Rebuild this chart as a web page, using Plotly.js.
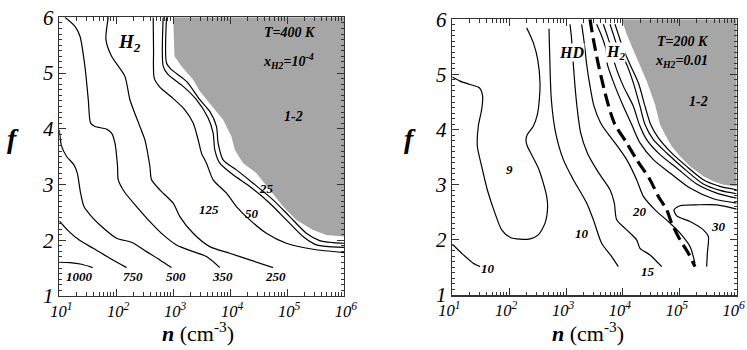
<!DOCTYPE html>
<html>
<head>
<meta charset="utf-8">
<script src="https://cdn.plot.ly/plotly-3.0.1.min.js"></script>
<style>
body { margin: 0; background: #fff; }
#plot { width: 747px; height: 350px; }
#plot text { font-family: "Liberation Serif", "Times New Roman", serif !important; }
</style>
</head>
<body>
<div id="plot"></div>
<script>
// contour lines: log10(n) and f
// left panel, T=400 K, xH2=1e-4
var l1000_n = [1.000, 1.187, 1.392, 1.585];
var l1000_f = [1.605, 1.599, 1.569, 1.509];
var l750_n = [1.000, 1.158, 1.363, 1.596, 1.889, 2.181];
var l750_f = [2.347, 2.168, 1.994, 1.856, 1.677, 1.509];
var l500_n = [1.000, 1.041, 1.129, 1.257, 1.316, 1.374, 1.433, 1.567, 1.713, 2.006, 2.269, 2.532, 2.766, 2.971];
var l500_f = [3.982, 3.683, 3.503, 3.353, 3.204, 2.844, 2.605, 2.425, 2.275, 2.036, 1.964, 1.796, 1.647, 1.509];
var l350_n = [1.099, 1.275, 1.363, 1.450, 1.509, 1.550, 1.626, 1.830, 1.918, 1.977, 2.023, 2.035, 2.152, 2.357, 2.591, 2.825, 3.058, 3.351, 3.585, 3.819];
var l350_f = [6.0, 5.838, 5.659, 5.120, 4.521, 4.102, 4.042, 3.994, 3.922, 3.743, 3.323, 3.084, 2.856, 2.605, 2.335, 2.096, 1.916, 1.796, 1.707, 1.509];
var l250_n = [1.860, 1.819, 1.918, 2.152, 2.240, 2.415, 2.503, 2.591, 2.620, 2.766, 3.000, 3.117, 3.351, 3.643, 3.994, 4.345, 4.754];
var l250_f = [6.0, 5.599, 5.299, 4.940, 4.521, 4.042, 3.802, 3.323, 3.084, 2.904, 2.665, 2.425, 2.126, 1.886, 1.766, 1.647, 1.509];
var l125_n = [2.649, 2.655, 2.667, 2.766, 2.971, 3.205, 3.351, 3.439, 3.497, 3.585, 3.702, 3.936, 4.111, 4.345, 4.637, 4.988, 5.456, 6.0];
var l125_f = [6.0, 5.419, 4.910, 4.749, 4.569, 4.341, 4.102, 3.802, 3.563, 3.383, 3.084, 2.844, 2.605, 2.365, 2.126, 1.946, 1.838, 1.778];
var l50_n = [2.825, 2.825, 2.912, 3.175, 3.409, 3.614, 3.702, 3.731, 3.819, 4.053, 4.345, 4.696, 4.988, 5.281, 5.515, 5.807, 6.0];
var l50_f = [6.0, 5.120, 4.970, 4.760, 4.521, 4.192, 3.922, 3.623, 3.383, 3.174, 2.964, 2.665, 2.365, 2.066, 1.916, 1.880, 1.874];
var l25_n = [2.883, 2.883, 2.971, 3.234, 3.468, 3.643, 3.760, 3.789, 3.877, 4.111, 4.404, 4.754, 5.047, 5.339, 5.573, 5.807, 6.0];
var l25_f = [6.0, 5.180, 5.060, 4.850, 4.521, 4.311, 4.042, 3.743, 3.443, 3.263, 3.024, 2.725, 2.425, 2.126, 1.994, 1.958, 1.946];
var lgray_n = [3.000, 3.023, 3.146, 3.351, 3.468, 3.643, 3.877, 4.023, 4.082, 4.228, 4.462, 4.696, 4.930, 5.164, 5.456, 5.690, 6.0, 6.0, 3.000];
var lgray_f = [6.0, 5.299, 5.120, 4.880, 4.671, 4.461, 4.162, 3.862, 3.623, 3.383, 3.204, 2.904, 2.605, 2.365, 2.186, 2.096, 2.066, 6.0, 6.0];

// right panel, T=200 K, xH2=0.01
var r10a_n = [1.000, 1.164, 1.369, 1.487];
var r10a_f = [1.921, 1.758, 1.576, 1.515];
var r9_n = [1.000, 1.135, 1.311, 1.475, 1.533, 1.516, 1.457, 1.440, 1.516, 1.615, 1.750, 1.868, 2.014, 2.190, 2.366, 2.512, 2.630, 2.676, 2.659, 2.600, 2.512, 2.395, 2.319, 2.295, 2.319, 2.424, 2.495, 2.530, 2.542, 2.501, 2.424, 2.307];
var r9_f = [4.952, 4.879, 4.818, 4.758, 4.606, 4.364, 4.061, 3.697, 3.333, 2.909, 2.485, 2.182, 2.048, 2.012, 2.018, 2.091, 2.303, 2.606, 2.788, 3.030, 3.303, 3.545, 3.697, 3.818, 3.909, 4.061, 4.273, 4.545, 4.848, 5.273, 5.576, 5.848];
var r10b_n = [2.700, 2.717, 2.741, 2.817, 2.952, 3.128, 3.362, 3.480, 3.626, 3.802, 3.919];
var r10b_f = [5.830, 5.152, 4.545, 3.939, 3.455, 3.091, 2.667, 2.364, 1.939, 1.697, 1.515];
var r15_n = [3.069, 3.093, 3.110, 3.128, 3.157, 3.198, 3.257, 3.374, 3.538, 3.655, 3.773, 3.849, 3.890, 4.066, 4.241, 4.300, 4.476, 4.681];
var r15_f = [5.909, 5.697, 5.455, 5.182, 4.788, 4.364, 3.939, 3.576, 3.273, 3.091, 2.909, 2.667, 2.364, 2.182, 2.000, 1.848, 1.727, 1.515];
var r20_n = [3.274, 3.304, 3.333, 3.362, 3.421, 3.491, 3.608, 3.726, 3.860, 4.066, 4.241, 4.359, 4.564, 4.798, 5.004, 5.179, 5.267];
var r20_f = [5.909, 5.697, 5.455, 5.182, 4.788, 4.424, 4.121, 3.939, 3.758, 3.455, 3.091, 2.788, 2.545, 2.333, 2.121, 1.879, 1.576];
var rdash_n = [3.421, 3.480, 3.567, 3.685, 3.784, 3.860, 4.066, 4.241, 4.476, 4.623, 4.769, 4.857, 5.004, 5.150, 5.267];
var rdash_f = [6.0, 5.636, 5.182, 4.667, 4.303, 4.091, 3.758, 3.455, 3.091, 2.788, 2.545, 2.303, 2.000, 1.758, 1.515];
var rh1_n = [3.538, 3.626, 3.702, 3.726, 3.860, 4.007, 4.154, 4.300, 4.535, 4.828, 5.179, 5.590, 6.0];
var rh1_f = [5.909, 5.697, 5.455, 5.182, 4.788, 4.424, 4.091, 3.758, 3.455, 3.212, 2.939, 2.745, 2.667];
var rh2_n = [3.655, 3.726, 3.802, 3.860, 4.007, 4.183, 4.288, 4.417, 4.652, 4.945, 5.297, 5.648, 6.0];
var rh2_f = [5.909, 5.697, 5.455, 5.182, 4.788, 4.424, 4.091, 3.818, 3.545, 3.303, 3.012, 2.848, 2.758];
var rh3_n = [3.773, 3.831, 3.919, 4.066, 4.183, 4.300, 4.388, 4.535, 4.769, 5.062, 5.414, 5.707, 6.0];
var rh3_f = [5.909, 5.727, 5.455, 5.182, 4.848, 4.424, 4.091, 3.818, 3.576, 3.303, 3.012, 2.897, 2.836];
var rh4_n = [3.860, 3.919, 4.007, 4.124, 4.271, 4.388, 4.488, 4.623, 4.828, 5.121, 5.414, 5.707, 6.0];
var rh4_f = [5.909, 5.727, 5.455, 5.182, 4.848, 4.424, 4.091, 3.848, 3.606, 3.333, 3.091, 2.970, 2.909];
var r30_n = [6.0, 5.648, 5.297, 5.004, 4.898, 4.945, 5.179, 5.414, 5.502, 5.484, 5.472];
var r30_f = [2.558, 2.636, 2.636, 2.618, 2.545, 2.436, 2.333, 2.182, 2.061, 1.758, 1.515];
var rgray_n = [3.978, 4.066, 4.241, 4.417, 4.564, 4.652, 4.740, 4.857, 5.004, 5.179, 5.414, 5.590, 5.766, 6.0, 6.0, 3.978];
var rgray_f = [6.0, 5.727, 5.303, 4.879, 4.455, 4.091, 3.909, 3.697, 3.515, 3.333, 3.152, 3.061, 3.000, 2.970, 6.0, 6.0];

// labels
var leftLabText = ['1000', '750', '500', '350', '250', '125', '50', '25', '1-2'];
var leftLabN = [1.363, 2.298, 3.058, 3.865, 4.801, 3.626, 4.386, 4.637, 5.105];
var leftLabF = [1.347, 1.347, 1.347, 1.347, 1.347, 2.545, 2.485, 2.934, 4.222];
var rightLabText = ['10', '9', '10', '15', '20', '30', '1-2'];
var rightLabN = [1.633, 2.014, 3.274, 4.447, 4.288, 5.678, 5.326];
var rightLabF = [1.485, 3.273, 2.121, 1.424, 2.515, 2.242, 4.515];

var xTickVals = [1e1, 1e2, 1e3, 1e4, 1e5, 1e6];
var xTickText = ['10<sup>1</sup>', '10<sup>2</sup>', '10<sup>3</sup>', '10<sup>4</sup>', '10<sup>5</sup>', '10<sup>6</sup>'];

function pw(a) { return a.map(function (v) { return Math.pow(10, v); }); }

function contour(xs, ys, p, opts) {
  opts = opts || {};
  return {
    x: pw(xs), y: ys,
    xaxis: p == 2 ? 'x2' : 'x', yaxis: p == 2 ? 'y2' : 'y',
    mode: 'lines', hoverinfo: 'skip', showlegend: false,
    line: { color: '#000', width: opts.w || 1.2, dash: opts.dash || 'solid', shape: 'spline', smoothing: 0.7 }
  };
}

function grayArea(xs, ys, p) {
  return {
    x: pw(xs), y: ys,
    xaxis: p == 2 ? 'x2' : 'x', yaxis: p == 2 ? 'y2' : 'y',
    mode: 'lines', fill: 'toself', fillcolor: '#a6a6a6',
    line: { width: 0, color: '#a6a6a6' }, hoverinfo: 'skip', showlegend: false
  };
}

var data = [
  grayArea(lgray_n, lgray_f, 1),
  contour(l1000_n, l1000_f, 1),
  contour(l750_n, l750_f, 1),
  contour(l500_n, l500_f, 1),
  contour(l350_n, l350_f, 1),
  contour(l250_n, l250_f, 1),
  contour(l125_n, l125_f, 1),
  contour(l50_n, l50_f, 1),
  contour(l25_n, l25_f, 1),
  grayArea(rgray_n, rgray_f, 2),
  contour(r10a_n, r10a_f, 2),
  contour(r9_n, r9_f, 2),
  contour(r10b_n, r10b_f, 2),
  contour(r15_n, r15_f, 2),
  contour(r20_n, r20_f, 2),
  contour(rh1_n, rh1_f, 2),
  contour(rh2_n, rh2_f, 2),
  contour(rh3_n, rh3_f, 2),
  contour(rh4_n, rh4_f, 2),
  contour(r30_n, r30_f, 2),
  contour(rdash_n, rdash_f, 2, { w: 3.2, dash: '13px,6px' })
];

var serif = 'Liberation Serif';

function xAxis(dom, anchor, shift) {
  return {
    type: 'log', range: [1, 6], domain: dom, anchor: anchor,
    tickmode: 'array', tickvals: xTickVals, ticktext: xTickText,
    ticks: 'inside', ticklen: 7, tickwidth: 1, tickcolor: '#333',
    minor: { ticks: 'inside', ticklen: 3.5, dtick: 'D1', tickcolor: '#333', showgrid: false },
    showline: true, linecolor: '#333', linewidth: 1.5, mirror: 'allticks',
    showgrid: false, zeroline: false, ticklabeloverflow: 'allow', ticklabelshift: shift,
    tickfont: { family: serif, size: 16.5, style: 'italic', color: '#000' }
  };
}

function yAxis(dom, anchor) {
  return {
    range: [1, 6], domain: dom, anchor: anchor, dtick: 1,
    ticks: 'inside', ticklen: 7, tickwidth: 1, tickcolor: '#333',
    minor: { ticks: 'inside', ticklen: 3, dtick: 0.1, tickcolor: '#333', showgrid: false },
    showline: true, linecolor: '#333', linewidth: 1.5, mirror: 'allticks',
    showgrid: false, zeroline: false,
    tickfont: { family: serif, size: 21, style: 'italic', color: '#000' }
  };
}

var ann = [];
function lab(txt, x, y, p, size, bg) {
  var a = {
    text: '<b><i>' + txt + '</i></b>', x: x, y: y,
    xref: p == 2 ? 'x2' : 'x', yref: p == 2 ? 'y2' : 'y',
    xanchor: 'center', yanchor: 'middle',
    showarrow: false, font: { family: serif, size: size, color: '#000' }
  };
  if (bg) { a.bgcolor = '#fff'; a.borderpad = 0; }
  ann.push(a);
}
leftLabText.forEach(function (t, i) { lab(t, leftLabN[i], leftLabF[i], 1, t == '1-2' ? 14 : 13); });
rightLabText.forEach(function (t, i) { lab(t, rightLabN[i], rightLabF[i], 2, t == '1-2' ? 14 : 13); });
lab('H<sub>2</sub>', 2.240, 5.539, 1, 19);
lab('T=400 K', 5.047, 5.719, 1, 14);
lab('x<sub>H2</sub>=10<sup>-4</sup>', 5.018, 5.210, 1, 14);
lab('HD', 3.098, 5.394, 2, 16, true);
lab('H<sub>2</sub>', 3.861, 5.394, 2, 16, true);
lab('T=200 K', 5.062, 5.606, 2, 14);
lab('x<sub>H2</sub>=0.01', 5.033, 5.242, 2, 14);

// axis titles
[13, 410].forEach(function (px) {
  ann.push({ text: '<b><i>f</i></b>', xref: 'paper', yref: 'paper', x: px / 747, y: 1 - 138 / 350,
    xanchor: 'center', yanchor: 'middle',
    showarrow: false, font: { family: serif, size: 28, color: '#000' } });
});
[198, 588].forEach(function (px) {
  ann.push({ text: '<b><i>n</i></b> (cm<sup>-3</sup>)', xref: 'paper', yref: 'paper', x: px / 747, y: 1 - 332 / 350,
    xanchor: 'center', yanchor: 'middle',
    showarrow: false, font: { family: serif, size: 22, color: '#000' } });
});

var layout = {
  width: 747, height: 350,
  margin: { l: 0, r: 0, t: 0, b: 0 },
  paper_bgcolor: '#fff', plot_bgcolor: '#fff',
  showlegend: false,
  font: { family: serif },
  xaxis: xAxis([0.0794, 0.4605], 'y', 2),
  yaxis: yAxis([0.1543, 0.9506], 'x'),
  xaxis2: xAxis([0.6055, 0.9862], 'y2', -3),
  yaxis2: yAxis([0.1571, 0.9449], 'x2'),
  annotations: ann
};

Plotly.newPlot('plot', data, layout, { displayModeBar: false, staticPlot: true });
</script>
</body>
</html>
